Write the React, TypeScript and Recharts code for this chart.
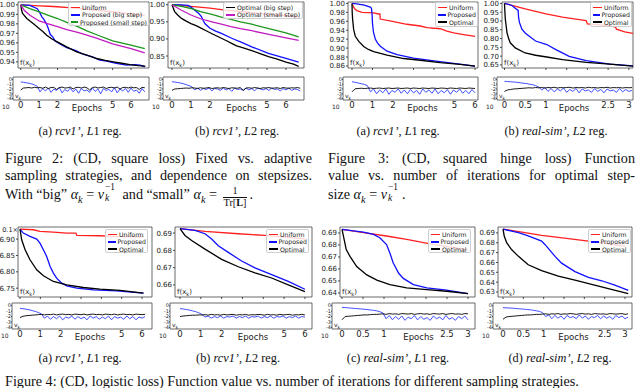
import { LineChart, Line, XAxis, YAxis, ReferenceArea, Legend } from 'recharts';

type Pt = [number, number];

const RED = '#ff2020';
const BLUE = '#1010ff';
const GREEN = '#1c961c';
const MAGENTA = '#c21bc2';
const BLACK = '#000000';
const VK_BLUE = '#2a3cff';

const FONT = '"DejaVu Sans", sans-serif';
const SERIF = '"Liberation Serif", "Times New Roman", serif';

// epoch grids used by the v_k traces
const epochGridLong = [
  0, 0.15, 0.3, 0.45, 0.6, 0.75, 0.9, 1.05, 1.2, 1.35, 1.5, 1.65, 1.8, 1.95, 2.1, 2.25, 2.4, 2.55, 2.7, 2.85,
  3, 3.15, 3.3, 3.45, 3.6, 3.75, 3.9, 4.05, 4.2, 4.35, 4.5, 4.65, 4.8, 4.95, 5.1, 5.25, 5.4, 5.55, 5.7, 5.85,
  6, 6.15, 6.3, 6.45, 6.6, 6.75,
];
const epochGridShort = [
  0, 0.075, 0.15, 0.225, 0.3, 0.375, 0.45, 0.525, 0.6, 0.675, 0.75, 0.825, 0.9, 0.975, 1.05, 1.125, 1.2, 1.275,
  1.35, 1.425, 1.5, 1.575, 1.65, 1.725, 1.8, 1.875, 1.95, 2.025, 2.1, 2.175, 2.25, 2.325, 2.4, 2.475, 2.55,
  2.625, 2.7, 2.775, 2.85, 2.925, 3, 3.075,
];

// --- square loss, rcv1', L1
const sqL1Uniform: Pt[] = [[0, 1.0], [0.5, 0.9995], [1, 0.999], [1.5, 0.9985], [2, 0.998], [2.6, 0.997], [3.2, 0.996], [4, 0.9945], [4.8, 0.993], [5.5, 0.9915], [6.2, 0.99], [6.75, 0.989]];
const sqL1PropBig: Pt[] = [[0, 1.0], [0.5, 0.9995], [0.9, 0.996], [1.0, 0.993], [1.15, 0.9874], [1.25, 0.985], [1.4, 0.98], [1.5, 0.975], [1.6, 0.969], [1.75, 0.966], [1.87, 0.962], [2.2, 0.958], [2.5, 0.955], [3.0, 0.9517], [3.4, 0.948], [3.95, 0.945], [4.3, 0.9417], [4.67, 0.9407], [5.2, 0.9383], [5.76, 0.9365], [6.2, 0.937], [6.5, 0.9365], [6.75, 0.9347]];
const sqL1PropSmall: Pt[] = [[0, 1.0], [0.5, 0.996], [1, 0.9926], [1.5, 0.989], [2, 0.9856], [2.5, 0.9815], [3.1, 0.977], [3.6, 0.9725], [4.2, 0.968], [5, 0.962], [6, 0.9575], [6.75, 0.954]];
const sqL1OptBig: Pt[] = [[0, 1.0], [0.05, 0.994], [0.1, 0.9909], [0.33, 0.9856], [0.5, 0.983], [0.69, 0.98], [1, 0.9751], [1.2, 0.972], [1.41, 0.968], [1.7, 0.964], [1.99, 0.961], [2.5, 0.9558], [3.04, 0.9505], [3.59, 0.947], [4.13, 0.9435], [4.6, 0.9415], [5.04, 0.94], [5.5, 0.9385], [5.94, 0.937], [6.4, 0.936], [6.78, 0.9354]];
const sqL1OptSmall: Pt[] = [[0, 1.0], [0.2, 0.994], [0.5, 0.989], [1, 0.983], [1.5, 0.98], [2, 0.977], [2.5, 0.974], [3.1, 0.971], [3.6, 0.968], [4.2, 0.9645], [5, 0.959], [6, 0.954], [6.75, 0.9495]];
const sqL1VkProp = [-0.55, -0.6, -0.7, -0.8, -0.95, -1.15, -1.45, -2.6, -1.9, -2.4, -1.8, -2.7, -2.0, -2.3, -1.7, -2.8, -2.1, -2.5, -1.8, -2.6, -2.0, -2.9, -1.9, -2.4, -2.2, -2.7, -1.8, -2.5, -2.0, -3.0, -1.9, -2.3, -2.1, -2.6, -1.7, -2.8, -2.0, -2.4, -1.9, -2.7, -1.8, -2.5, -2.2, -2.9, -1.9, -2.6];
const sqL1VkOpt = [-2.2, -1.8, -1.75, -1.7, -1.8, -1.65, -1.75, -1.7, -1.85, -1.6, -1.9, -1.7, -1.65, -2.1, -1.7, -1.6, -1.8, -1.75, -1.6, -2.0, -1.7, -1.65, -1.8, -1.6, -1.75, -2.2, -1.7, -1.6, -1.8, -1.7, -1.6, -1.9, -1.7, -1.65, -1.8, -1.6, -2.0, -1.7, -1.65, -1.8, -1.6, -1.75, -1.7, -2.1, -1.65, -1.75];

// --- square loss, rcv1', L2
const sqL2Uniform: Pt[] = [[0, 1.0], [1, 0.995], [2, 0.99], [2.7, 0.985], [4, 0.978], [5.5, 0.97], [6.67, 0.965]];
const sqL2PropBig: Pt[] = [[0, 1.0], [0.5, 0.9995], [0.85, 0.998], [1.0, 0.993], [1.2, 0.984], [1.4, 0.975], [1.55, 0.965], [1.65, 0.953], [1.73, 0.945], [2, 0.931], [2.3, 0.923], [2.6, 0.916], [3.14, 0.902], [3.7, 0.889], [4.2, 0.877], [5.08, 0.858], [6, 0.843], [6.67, 0.832]];
const sqL2PropSmall: Pt[] = [[0, 1.0], [0.5, 0.995], [1, 0.989], [1.5, 0.98], [2.1, 0.972], [2.6, 0.964], [3.1, 0.957], [3.6, 0.95], [4.2, 0.943], [5.1, 0.93], [6, 0.918], [6.67, 0.906]];
const sqL2OptBig: Pt[] = [[0, 1.0], [0.07, 0.99], [0.14, 0.98], [0.3, 0.97], [0.5, 0.96], [0.75, 0.952], [1, 0.945], [1.3, 0.938], [1.55, 0.931], [1.8, 0.924], [2.08, 0.916], [2.3, 0.91], [2.6, 0.902], [2.9, 0.894], [3.14, 0.887], [3.4, 0.88], [3.67, 0.875], [4.2, 0.866], [4.6, 0.858], [5.08, 0.848], [5.5, 0.842], [6, 0.832], [6.4, 0.826], [6.67, 0.82]];
const sqL2OptSmall: Pt[] = [[0, 1.0], [0.5, 0.984], [1, 0.97], [1.5, 0.959], [2.1, 0.95], [2.6, 0.943], [3.1, 0.936], [3.6, 0.93], [4.2, 0.924], [5.1, 0.913], [6, 0.903], [6.67, 0.896]];
const sqL2VkProp = [-0.5, -0.55, -0.65, -0.75, -0.9, -1.1, -1.3, -1.55, -2.2, -1.8, -2.3, -1.9, -2.1, -1.8, -2.4, -1.9, -2.0, -2.3, -1.8, -2.2, -1.9, -2.5, -1.8, -2.1, -2.0, -2.3, -1.8, -2.2, -1.9, -2.4, -1.8, -2.0, -2.2, -1.9, -2.3, -1.8, -2.1, -2.0, -2.4, -1.9, -2.2, -1.8, -2.3, -2.0, -2.1, -2.4];
const sqL2VkOpt = [-2.3, -2.0, -1.95, -1.9, -1.85, -1.8, -1.85, -1.75, -1.8, -1.9, -1.75, -1.85, -1.8, -1.7, -1.9, -1.8, -1.75, -1.85, -1.7, -1.8, -1.9, -1.75, -1.8, -1.85, -1.7, -2.3, -1.8, -1.75, -1.85, -1.7, -1.8, -1.9, -1.75, -1.8, -1.7, -1.85, -1.8, -1.75, -1.9, -1.7, -1.8, -1.85, -1.75, -1.8, -1.7, -1.85];

// --- squared hinge loss, rcv1', L1
const hgL1Uniform: Pt[] = [[0, 1.0], [0.08, 0.9916], [0.15, 0.987], [0.24, 0.9839], [0.49, 0.98], [1.06, 0.9786], [1.3, 0.9763], [1.36, 0.9763], [1.38, 0.965], [2.03, 0.959], [2.68, 0.9533], [3.33, 0.9494], [3.66, 0.9456], [4.3, 0.9433], [4.63, 0.938], [4.96, 0.934], [5.45, 0.9303], [6.0, 0.9264]];
const hgL1Prop: Pt[] = [[0, 1.0], [0.24, 0.999], [0.6, 0.996], [0.89, 0.9916], [0.95, 0.989], [0.98, 0.975], [1.0, 0.955], [1.05, 0.935], [1.14, 0.9196], [1.25, 0.911], [1.38, 0.9043], [1.71, 0.893], [2.2, 0.8852], [3.0, 0.8775], [4.0, 0.8713], [4.96, 0.866], [6.0, 0.8597]];
const hgL1Opt: Pt[] = [[0, 1.0], [0.01, 0.98], [0.03, 0.9648], [0.08, 0.9418], [0.16, 0.9265], [0.33, 0.915], [0.57, 0.9035], [0.8, 0.897], [1.06, 0.892], [1.71, 0.8843], [2.52, 0.8767], [3.33, 0.8728], [4.3, 0.8675], [5.28, 0.8637], [6.0, 0.8597]];
const hgL1VkProp = [-0.5, -0.6, -0.75, -0.9, -1.05, -1.3, -2.6, -2.0, -3.0, -2.2, -2.8, -2.0, -3.1, -2.3, -2.7, -2.0, -2.9, -2.2, -3.0, -2.1, -2.8, -2.3, -3.1, -2.0, -2.7, -2.2, -2.9, -2.0, -3.0, -2.3, -2.8, -2.1, -3.1, -2.2, -2.7, -2.0, -2.9, -2.3, -3.0, -2.1, -2.8];
const hgL1VkOpt = [-2.6, -1.95, -1.9, -1.85, -1.9, -1.85, -1.8, -1.9, -1.85, -1.8, -1.9, -1.85, -1.8, -1.9, -1.85, -1.8, -1.9, -1.85, -1.8, -1.9, -1.8, -1.85, -1.9, -1.8, -1.85, -1.9, -1.8, -1.85, -1.9, -1.8, -1.85, -1.9, -1.8, -1.85, -1.9, -1.8, -1.85, -1.9, -1.8, -1.85, -1.9];

// --- squared hinge loss, real-sim', L2
const hgL2Uniform: Pt[] = [[0, 1.0], [0.25, 0.985], [0.5, 0.969], [1, 0.94], [1.4, 0.922], [1.72, 0.911], [1.97, 0.902], [1.99, 0.89], [2.0, 0.883], [2.3, 0.878], [2.53, 0.873], [2.68, 0.865], [2.7, 0.853], [2.9, 0.838], [3.1, 0.83]];
const hgL2Prop: Pt[] = [[0, 1.0], [0.1, 0.995], [0.18, 0.988], [0.26, 0.973], [0.33, 0.96], [0.34, 0.92], [0.36, 0.892], [0.42, 0.853], [0.5, 0.832], [0.59, 0.815], [0.75, 0.786], [1.02, 0.766], [1.24, 0.737], [1.56, 0.699], [1.97, 0.674], [2.54, 0.655], [3.1, 0.645]];
const hgL2Opt: Pt[] = [[0, 1.0], [0.01, 0.95], [0.02, 0.911], [0.06, 0.834], [0.1, 0.8], [0.14, 0.776], [0.26, 0.747], [0.5, 0.718], [0.75, 0.705], [1.02, 0.695], [1.4, 0.68], [1.97, 0.664], [2.54, 0.655], [3.1, 0.643]];
const hgL2VkProp = [-0.4, -0.45, -0.5, -0.55, -0.6, -0.7, -0.8, -0.85, -1.0, -1.1, -1.3, -1.6, -2.2, -1.7, -2.5, -1.9, -2.6, -2.0, -2.4, -1.8, -2.7, -2.1, -2.5, -1.9, -2.8, -2.0, -2.4, -2.2, -2.7, -1.9, -2.5, -2.1, -2.8, -2.0, -2.4, -2.2, -2.7, -1.9, -2.6, -2.1, -2.5, -2.3];
const hgL2VkOpt = [-2.5, -2.2, -2.1, -2.0, -1.95, -1.9, -1.85, -1.8, -1.75, -1.8, -1.7, -1.75, -1.7, -1.8, -1.7, -1.75, -1.65, -1.8, -1.7, -1.75, -1.7, -1.65, -1.8, -1.7, -1.75, -1.7, -1.8, -1.65, -1.75, -1.7, -1.8, -1.7, -1.75, -1.65, -1.8, -1.7, -1.75, -1.7, -1.8, -1.7, -1.75, -1.7];

// --- logistic loss, rcv1', L1 (axis shows values x10)
const lgL1Uniform: Pt[] = [[0, 0.69306], [0.66, 0.69286], [0.98, 0.69235], [1.64, 0.69214], [2.3, 0.69184], [2.75, 0.69184], [2.79, 0.69112], [3.93, 0.69102], [4.75, 0.69082], [6.1, 0.6907]];
const lgL1Prop: Pt[] = [[0, 0.69306], [0.16, 0.69184], [0.49, 0.69082], [0.82, 0.69], [0.98, 0.68878], [1.15, 0.68674], [1.31, 0.6847], [1.48, 0.68164], [1.64, 0.6796], [1.8, 0.67806], [2.05, 0.67653], [2.3, 0.6757], [2.79, 0.675], [3.61, 0.6745], [4.75, 0.67419], [6.07, 0.67348]];
const lgL1Opt: Pt[] = [[0, 0.69306], [0.08, 0.6898], [0.25, 0.68674], [0.49, 0.68368], [0.82, 0.6806], [1.15, 0.6788], [1.64, 0.67704], [2.3, 0.676], [3.11, 0.6752], [3.93, 0.6747], [4.92, 0.6743], [6.07, 0.67348]];
const lgL1VkProp = [-0.5, -0.55, -0.65, -0.75, -0.9, -1.05, -1.25, -1.5, -2.3, -1.9, -2.5, -2.0, -2.4, -1.9, -2.6, -2.1, -2.3, -1.9, -2.5, -2.0, -2.4, -2.1, -2.6, -1.9, -2.3, -2.0, -2.5, -2.1, -2.4, -1.9, -2.6, -2.0, -2.3, -2.1, -2.5, -1.9, -2.4, -2.0, -2.6, -2.1, -2.3, -2.0];
const lgL1VkOpt = [-2.2, -1.95, -1.85, -1.8, -1.75, -1.7, -1.65, -1.6, -1.7, -1.6, -1.65, -1.55, -1.7, -1.6, -1.55, -1.65, -1.6, -1.7, -1.55, -1.6, -1.65, -1.55, -1.7, -1.6, -1.55, -1.65, -1.6, -1.7, -1.55, -1.6, -1.65, -1.55, -1.7, -1.6, -1.55, -1.65, -1.6, -1.7, -1.55, -1.6, -1.65, -1.6];

// --- logistic loss, rcv1', L2
const lgL2Uniform: Pt[] = [[0, 0.6926], [1.2, 0.691], [2.8, 0.6896], [4.08, 0.6886], [6, 0.6866]];
const lgL2Prop: Pt[] = [[0, 0.6926], [0.72, 0.6916], [1.2, 0.6896], [1.52, 0.6866], [1.84, 0.6827], [2.32, 0.6788], [2.96, 0.6738], [3.6, 0.6699], [4.4, 0.6659], [5.2, 0.662], [6.0, 0.6575]];
const lgL2Opt: Pt[] = [[0, 0.6926], [0.24, 0.6886], [0.56, 0.6857], [1.2, 0.6807], [2.0, 0.6748], [2.8, 0.6705], [3.6, 0.6669], [4.4, 0.664], [5.2, 0.66], [6.0, 0.6561]];
const lgL2VkProp = [-0.55, -0.6, -0.7, -0.8, -0.95, -1.1, -1.3, -1.6, -2.1, -1.9, -2.3, -2.0, -2.2, -1.9, -2.3, -2.0, -2.1, -1.9, -2.3, -2.0, -2.2, -1.9, -2.3, -2.0, -2.1, -1.9, -2.3, -2.0, -2.2, -1.9, -2.3, -2.0, -2.1, -1.9, -2.3, -2.0, -2.2, -1.9, -2.3, -2.0, -2.1];
const lgL2VkOpt = [-2.0, -1.9, -1.85, -1.8, -1.75, -1.75, -1.7, -1.7, -1.65, -1.75, -1.6, -1.7, -1.65, -1.75, -1.6, -1.7, -1.65, -1.6, -1.75, -1.65, -1.7, -1.6, -1.75, -1.65, -1.7, -1.6, -1.65, -1.75, -1.6, -1.7, -1.65, -1.75, -1.6, -1.7, -1.65, -1.6, -1.75, -1.65, -1.7, -1.6, -1.7];

// --- logistic loss, real-sim', L1
const lsL1Uniform: Pt[] = [[0, 0.6931], [0.51, 0.6903], [1.06, 0.6875], [1.54, 0.6846], [2.1, 0.681], [3.0, 0.676]];
const lsL1Prop: Pt[] = [[0, 0.6931], [0.51, 0.6908], [0.75, 0.6889], [0.9, 0.686], [1.06, 0.6804], [1.14, 0.6733], [1.22, 0.6649], [1.35, 0.6564], [1.46, 0.6521], [1.7, 0.647], [2.02, 0.6442], [2.49, 0.6423], [3.0, 0.6394]];
const lsL1Opt: Pt[] = [[0, 0.6931], [0.05, 0.6846], [0.1, 0.6762], [0.19, 0.6705], [0.35, 0.662], [0.59, 0.655], [0.83, 0.6507], [1.14, 0.647], [1.54, 0.6442], [2.02, 0.6428], [2.49, 0.6414], [3.0, 0.6394]];
const lsL1VkProp = [-0.3, -0.35, -0.4, -0.45, -0.5, -0.55, -0.6, -0.65, -0.7, -0.8, -0.85, -0.95, -1.1, -1.35, -2.4, -1.8, -2.6, -2.0, -2.5, -1.9, -2.7, -2.1, -2.4, -1.8, -2.6, -2.0, -2.5, -2.2, -2.7, -1.9, -2.4, -2.1, -2.6, -1.8, -2.5, -2.2, -2.7, -2.0, -2.4, -1.9, -2.6];
const lsL1VkOpt = [-2.6, -2.0, -1.95, -1.9, -1.85, -1.8, -1.75, -1.7, -1.7, -1.65, -1.6, -1.6, -1.55, -1.5, -1.6, -1.45, -1.55, -1.5, -1.6, -1.45, -1.5, -1.55, -1.45, -1.6, -1.5, -1.45, -1.55, -1.5, -1.6, -1.45, -1.5, -1.55, -1.45, -1.6, -1.5, -1.45, -1.55, -1.5, -1.6, -1.45, -1.5];

// --- logistic loss, real-sim', L2
const lsL2Uniform: Pt[] = [[0, 0.6938], [0.54, 0.6903], [0.95, 0.6876], [1.61, 0.6841], [2.1, 0.6817], [3.0, 0.6766]];
const lsL2Prop: Pt[] = [[0, 0.6938], [0.38, 0.6903], [0.62, 0.6869], [0.95, 0.6817], [1.03, 0.6783], [1.28, 0.6662], [1.44, 0.6593], [1.77, 0.6507], [2.1, 0.6448], [2.43, 0.6414], [2.75, 0.6369], [3.08, 0.6317]];
const lsL2Opt: Pt[] = [[0, 0.6938], [0.03, 0.6869], [0.09, 0.68], [0.21, 0.6731], [0.38, 0.6662], [0.62, 0.6576], [0.95, 0.6517], [1.36, 0.6462], [1.77, 0.6421], [2.18, 0.6376], [2.59, 0.6334], [3.08, 0.6283]];
const lsL2VkProp = [-0.35, -0.4, -0.42, -0.45, -0.5, -0.55, -0.6, -0.65, -0.7, -0.75, -0.85, -0.95, -1.05, -1.3, -2.0, -1.7, -2.4, -1.8, -2.3, -1.9, -2.5, -1.8, -2.2, -2.0, -2.4, -1.7, -2.3, -1.9, -2.5, -2.0, -2.2, -1.8, -2.4, -1.9, -2.3, -2.0, -2.5, -1.8, -2.2, -1.9, -2.4, -2.1];
const lsL2VkOpt = [-2.5, -2.1, -2.0, -1.95, -1.9, -1.85, -1.8, -1.75, -1.7, -1.7, -1.65, -1.6, -1.6, -1.55, -1.5, -1.6, -1.5, -1.55, -1.45, -1.6, -1.5, -1.55, -1.45, -1.5, -1.6, -1.5, -1.45, -1.55, -1.5, -1.6, -1.45, -1.5, -1.55, -1.5, -1.6, -1.45, -1.5, -1.55, -1.5, -1.45, -1.6, -1.5];

const wholeTicks = [0, 1, 2, 3, 4, 5, 6];
const halfTicks = [0, 0.5, 1, 1.5, 2, 2.5, 3];
const wholeLabels = [0, 1, 2, 5, 6];
const halfLabels = [0, 0.5, 1, 2.5, 3];
const vkTicks = [0, -1, -2, -3, -4];
const vkDomain = [-4.3, 0.5];

const basicLegend = [
  { label: 'Uniform', color: RED },
  { label: 'Proposed', color: BLUE },
  { label: 'Optimal', color: BLACK },
];

const rows = (pts: Pt[]) => pts.map(([epoch, value]) => ({ epoch, value }));
const zipRows = (grid: number[], vals: number[]) => vals.map((value, i) => ({ epoch: grid[i], value }));
const fmt2 = (v: number) => v.toFixed(2);

const Y_W = 26;
const VK_W = 9;

const panels = [
  {
    box: { left: 18, right: 149, top: 2, bottom: 68 },
    xDomain: [-0.15, 6.98], yDomain: [0.9335, 1.003], xTicks: wholeTicks,
    yTicks: [0.94, 0.95, 0.96, 0.97, 0.98, 0.99, 1.0],
    series: [
      { name: 'u', color: RED, pts: sqL1Uniform },
      { name: 'pb', color: BLUE, pts: sqL1PropBig },
      { name: 'ps', color: GREEN, pts: sqL1PropSmall },
      { name: 'ob', color: BLACK, pts: sqL1OptBig },
      { name: 'os', color: MAGENTA, pts: sqL1OptSmall },
    ],
    legend: { left: 68, top: 2, width: 81, height: 24, items: [
      { label: 'Uniform', color: RED },
      { label: 'Proposed (big step)', color: BLUE },
      { label: 'Proposed (small step)', color: GREEN },
    ] },
    vk: { left: 13, top: 77, bottom: 100, xDomain: [-0.42, 6.98], xTicks: wholeLabels, epochsDx: 6, grid: epochGridLong, prop: sqL1VkProp, opt: sqL1VkOpt },
  },
  {
    box: { left: 168, right: 304, top: 2, bottom: 68 },
    xDomain: [-0.21, 6.95], yDomain: [0.815, 1.008], xTicks: wholeTicks,
    yTicks: [0.85, 0.9, 0.95, 1.0],
    series: [
      { name: 'u', color: RED, pts: sqL2Uniform },
      { name: 'pb', color: BLUE, pts: sqL2PropBig },
      { name: 'ps', color: GREEN, pts: sqL2PropSmall },
      { name: 'ob', color: BLACK, pts: sqL2OptBig },
      { name: 'os', color: MAGENTA, pts: sqL2OptSmall },
    ],
    legend: { left: 223, top: 2, width: 80, height: 17, items: [
      { label: 'Optimal (big step)', color: BLACK },
      { label: 'Optimal (small step)', color: MAGENTA },
    ] },
    vk: { left: 163, top: 77, bottom: 100, xDomain: [-0.47, 6.95], xTicks: wholeLabels, epochsDx: 8, grid: epochGridLong, prop: sqL2VkProp, opt: sqL2VkOpt },
  },
  {
    box: { left: 348, right: 478, top: 2, bottom: 68 },
    xDomain: [-0.195, 6.146], yDomain: [0.8555, 1.0031], xTicks: wholeTicks,
    yTicks: [0.86, 0.88, 0.9, 0.92, 0.94, 0.96, 0.98, 1.0],
    series: [
      { name: 'u', color: RED, pts: hgL1Uniform },
      { name: 'p', color: BLUE, pts: hgL1Prop },
      { name: 'o', color: BLACK, pts: hgL1Opt },
    ],
    legend: { left: 435, top: 2, width: 43, height: 25, items: basicLegend },
    vk: { left: 343, top: 77, bottom: 100, xDomain: [-0.44, 6.146], xTicks: wholeLabels, epochsDx: 12, grid: epochGridLong, prop: hgL1VkProp, opt: hgL1VkOpt },
  },
  {
    box: { left: 502, right: 633, top: 2, bottom: 68 },
    xDomain: [-0.06, 3.1], yDomain: [0.6325, 1.008], xTicks: halfTicks,
    yTicks: [0.65, 0.7, 0.75, 0.8, 0.85, 0.9, 0.95, 1.0],
    series: [
      { name: 'u', color: RED, pts: hgL2Uniform },
      { name: 'p', color: BLUE, pts: hgL2Prop },
      { name: 'o', color: BLACK, pts: hgL2Opt },
    ],
    legend: { left: 590, top: 2, width: 42, height: 25, items: basicLegend },
    vk: { left: 497, top: 77, bottom: 100, xDomain: [-0.18, 3.1], xTicks: halfLabels, epochsDx: 9, grid: epochGridShort, prop: hgL2VkProp, opt: hgL2VkOpt },
  },
  {
    box: { left: 18, right: 152, top: 227, bottom: 297 },
    xDomain: [-0.1, 6.49], yDomain: [0.6723, 0.6937], xTicks: wholeTicks,
    yTicks: [0.675, 0.68, 0.685, 0.69], tickFmt: (v: number) => (v * 10).toFixed(2), offsetText: '0.1×',
    series: [
      { name: 'u', color: RED, pts: lgL1Uniform },
      { name: 'p', color: BLUE, pts: lgL1Prop },
      { name: 'o', color: BLACK, pts: lgL1Opt },
    ],
    legend: { left: 105, top: 229, width: 43, height: 24, items: basicLegend },
    vk: { left: 12, top: 303, bottom: 329, xDomain: [-0.39, 6.49], xTicks: wholeLabels, epochsDx: 8, grid: epochGridLong, prop: lgL1VkProp, opt: lgL1VkOpt },
  },
  {
    box: { left: 175, right: 312, top: 227, bottom: 297 },
    xDomain: [-0.24, 6.34], yDomain: [0.653, 0.6935], xTicks: wholeTicks,
    yTicks: [0.66, 0.67, 0.68, 0.69],
    series: [
      { name: 'u', color: RED, pts: lgL2Uniform },
      { name: 'p', color: BLUE, pts: lgL2Prop },
      { name: 'o', color: BLACK, pts: lgL2Opt },
    ],
    legend: { left: 266, top: 229, width: 43, height: 24, items: basicLegend },
    vk: { left: 170, top: 303, bottom: 329, xDomain: [-0.48, 6.34], xTicks: wholeLabels, epochsDx: 12, grid: epochGridLong, prop: lgL2VkProp, opt: lgL2VkOpt },
  },
  {
    box: { left: 340, right: 475, top: 227, bottom: 297 },
    xDomain: [-0.048, 3.167], yDomain: [0.6366, 0.695], xTicks: halfTicks,
    yTicks: [0.64, 0.65, 0.66, 0.67, 0.68, 0.69],
    series: [
      { name: 'u', color: RED, pts: lsL1Uniform },
      { name: 'p', color: BLUE, pts: lsL1Prop },
      { name: 'o', color: BLACK, pts: lsL1Opt },
    ],
    legend: { left: 428, top: 229, width: 43, height: 24, items: basicLegend },
    vk: { left: 332, top: 303, bottom: 329, xDomain: [-0.238, 3.167], xTicks: halfLabels, epochsDx: 15, grid: epochGridShort, prop: lsL1VkProp, opt: lsL1VkOpt },
  },
  {
    box: { left: 498, right: 632, top: 227, bottom: 297 },
    xDomain: [-0.123, 3.172], yDomain: [0.6249, 0.696], xTicks: halfTicks,
    yTicks: [0.63, 0.64, 0.65, 0.66, 0.67, 0.68, 0.69],
    series: [
      { name: 'u', color: RED, pts: lsL2Uniform },
      { name: 'p', color: BLUE, pts: lsL2Prop },
      { name: 'o', color: BLACK, pts: lsL2Opt },
    ],
    legend: { left: 588, top: 229, width: 43, height: 24, items: basicLegend },
    vk: { left: 493, top: 303, bottom: 329, xDomain: [-0.246, 3.172], xTicks: halfLabels, epochsDx: 11, grid: epochGridShort, prop: lsL2VkProp, opt: lsL2VkOpt },
  },
];

const topCaptions = [
  { x: 80, tag: '(a)', data: 'rcv1’', reg: '1' },
  { x: 237, tag: '(b)', data: 'rcv1’', reg: '2' },
  { x: 398, tag: '(a)', data: 'rcv1’', reg: '1' },
  { x: 556, tag: '(b)', data: 'real-sim’', reg: '2' },
];
const bottomCaptions = [
  { x: 80, tag: '(a)', data: 'rcv1’', reg: '1' },
  { x: 238, tag: '(b)', data: 'rcv1’', reg: '2' },
  { x: 398, tag: '(c)', data: 'real-sim’', reg: '1' },
  { x: 560, tag: '(d)', data: 'real-sim’', reg: '2' },
];

const cornerText = (main: boolean) => (props: any) => {
  const vb = props.viewBox || {};
  return (
    <text x={vb.x + 2} y={vb.y + vb.height - (main ? 3 : 2)} fontSize={main ? 7 : 6} fontFamily={FONT} fill="#222">
      {main ? 'f(x' : 'v'}
      <tspan fontSize={main ? 5 : 4.5} dy={1.5}>k</tspan>
      {main ? <tspan dy={-1.5}>)</tspan> : null}
    </text>
  );
};

function LegendBox({ items, width, height }: any) {
  return (
    <div style={{
      boxSizing: 'border-box', width, height, background: 'rgba(255,255,255,0.8)', border: '1px solid #cfcfcf',
      borderRadius: 2, padding: '1px 1px 0 2px', fontFamily: FONT, fontSize: 6.2, lineHeight: '7.3px', color: '#222',
    }}>
      {items.map((it: any) => (
        <div key={it.label} style={{ display: 'flex', alignItems: 'center', whiteSpace: 'nowrap' }}>
          <span style={{ display: 'inline-block', width: 9, height: 1.6, background: it.color, marginRight: 2 }} />
          {it.label}
        </div>
      ))}
    </div>
  );
}

function MainPlot({ p }: any) {
  const { box, legend } = p;
  const w = box.right - box.left;
  const h = box.bottom - box.top;
  const chartLeft = box.left - Y_W;
  const chartTop = box.top - 2;
  return (
    <div style={{ position: 'absolute', left: chartLeft, top: chartTop }}>
      <LineChart width={Y_W + w + 2} height={h + 6} margin={{ top: 2, right: 2, bottom: 0, left: 0 }}>
        <XAxis type="number" dataKey="epoch" domain={p.xDomain} ticks={p.xTicks} allowDataOverflow interval={0}
          axisLine={false} tickSize={2} height={4} stroke="#444" tickFormatter={() => ''} />
        <YAxis type="number" domain={p.yDomain} ticks={p.yTicks} allowDataOverflow interval={0} width={Y_W}
          axisLine={false} tickSize={2} tickMargin={1} stroke="#444"
          tick={{ fontSize: 7, fill: '#222', fontFamily: FONT }} tickFormatter={p.tickFmt || fmt2}
          label={p.offsetText ? { value: p.offsetText, position: 'insideTopRight', offset: 0, fontSize: 6.5, fill: '#222', fontFamily: FONT } : undefined} />
        <ReferenceArea x1={p.xDomain[0]} x2={p.xDomain[1]} y1={p.yDomain[0]} y2={p.yDomain[1]} ifOverflow="visible"
          fill="none" stroke="#444" strokeWidth={0.8} label={cornerText(true)} />
        {p.series.map((s: any) => (
          <Line key={s.name} data={rows(s.pts)} dataKey="value" stroke={s.color} strokeWidth={1.3} dot={false}
            isAnimationActive={false} />
        ))}
        <Legend layout="vertical" align="center" verticalAlign="middle"
          wrapperStyle={{ left: legend.left - chartLeft, top: legend.top - chartTop, width: legend.width, height: legend.height }}
          content={() => <LegendBox items={legend.items} width={legend.width} height={legend.height} />} />
      </LineChart>
    </div>
  );
}

function VkPlot({ p }: any) {
  const vk = p.vk;
  const w = p.box.right - vk.left;
  const h = vk.bottom - vk.top;
  return (
    <div style={{ position: 'absolute', left: vk.left - VK_W, top: vk.top - 1 }}>
      <LineChart width={VK_W + w + 2} height={h + 14} margin={{ top: 1, right: 2, bottom: 0, left: 0 }}>
        <XAxis type="number" dataKey="epoch" domain={vk.xDomain} ticks={vk.xTicks} allowDataOverflow interval={0}
          axisLine={false} tickLine={false} tickSize={0} tickMargin={2} height={13}
          tick={{ fontSize: 8.5, fill: '#222', fontFamily: FONT }} tickFormatter={(v: number) => String(v)}
          label={{ value: 'Epochs', position: 'center', dx: vk.epochsDx, dy: 1, fontSize: 8.5, fill: '#222', fontFamily: FONT }} />
        <YAxis type="number" domain={vkDomain} ticks={vkTicks} allowDataOverflow interval={0} width={VK_W}
          axisLine={false} tickSize={1} tickMargin={0} stroke="#444"
          tick={{ fontSize: 5, fill: '#222', fontFamily: FONT }} />
        <ReferenceArea x1={vk.xDomain[0]} x2={vk.xDomain[1]} y1={vkDomain[0]} y2={vkDomain[1]} ifOverflow="visible"
          fill="none" stroke="#444" strokeWidth={0.8} label={cornerText(false)} />
        <Line data={zipRows(vk.grid, vk.prop)} dataKey="value" stroke={VK_BLUE} strokeWidth={0.9} dot={false}
          isAnimationActive={false} />
        <Line data={zipRows(vk.grid, vk.opt)} dataKey="value" stroke={BLACK} strokeWidth={0.9} dot={false}
          isAnimationActive={false} />
      </LineChart>
      <div style={{ position: 'absolute', left: -2, top: h + 4, fontFamily: FONT, fontSize: 6, color: '#222' }}>10</div>
    </div>
  );
}

// v with stacked subscript k and superscript -1 (offsets in the script's own em)
function SubSup({ sub, sup }: any) {
  return (
    <span style={{ display: 'inline-block', position: 'relative', width: '1.05em', height: '1em', verticalAlign: 'baseline' }}>
      <span style={{ position: 'absolute', left: 1, top: '-0.12em', fontSize: '0.66em', lineHeight: 1 }}>{sup}</span>
      <span style={{ position: 'absolute', left: 1, top: '1.02em', fontSize: '0.66em', lineHeight: 1, fontStyle: 'italic' }}>{sub}</span>
    </span>
  );
}

function Frac({ num, den }: any) {
  return (
    <span style={{ display: 'inline-flex', flexDirection: 'column', alignItems: 'center', verticalAlign: '0.45em', fontSize: '0.72em', lineHeight: 1.05, margin: '0 2px' }}>
      <span>{num}</span>
      <span style={{ borderTop: '0.7px solid #111', padding: '0 1px' }}>{den}</span>
    </span>
  );
}

const alphaK = (
  <>
    <i>α</i><sub style={{ fontSize: '0.72em', fontStyle: 'italic', lineHeight: 0 }}>k</sub>
  </>
);

function SubCaption({ c, y }: any) {
  return (
    <div style={{ position: 'absolute', left: c.x - 80, top: y, width: 160, textAlign: 'center', fontFamily: SERIF, fontSize: 12.3, lineHeight: '14px', color: '#111', whiteSpace: 'nowrap' }}>
      {c.tag} <i>{c.data}</i>, <i>L</i>{c.reg} reg.
    </div>
  );
}

const captionLine = (left: number, top: number, width: number | undefined, justify: boolean) => ({
  position: 'absolute' as const, left, top, width, fontFamily: SERIF, fontSize: 14.2, lineHeight: '17px', color: '#111',
  whiteSpace: 'nowrap' as const, textAlign: justify ? ('justify' as const) : ('left' as const),
  textAlignLast: justify ? ('justify' as const) : ('left' as const),
});

export default function App() {
  return (
    <div style={{ position: 'absolute', left: 0, top: 0, width: 640, height: 388, overflow: 'hidden', background: '#fff' }}>
      {panels.map((p, i) => (
        <div key={i}>
          <MainPlot p={p} />
          <VkPlot p={p} />
        </div>
      ))}
      {topCaptions.map((c, i) => <SubCaption key={i} c={c} y={124} />)}
      {bottomCaptions.map((c, i) => <SubCaption key={i} c={c} y={351} />)}

      <div style={captionLine(5, 149.5, 307, true)}>Figure 2: (CD, square loss) Fixed vs. adaptive</div>
      <div style={captionLine(5, 167, 307, true)}>sampling strategies, and dependence on stepsizes.</div>
      <div style={captionLine(5, 184.5, undefined, false)}>
        With “big” {alphaK} = <i>v</i><SubSup sub="k" sup="−1" /> and “small” {alphaK} = <Frac num="1" den={<>Tr[<b>L</b>]</>} />.
      </div>

      <div style={captionLine(328, 149.5, 307, true)}>Figure 3: (CD, squared hinge loss) Function</div>
      <div style={captionLine(328, 167, 307, true)}>value vs. number of iterations for optimal step-</div>
      <div style={captionLine(328, 184.5, undefined, false)}>
        size {alphaK} = <i>v</i><SubSup sub="k" sup="−1" />.
      </div>

      <div style={captionLine(5, 372.5, undefined, false)}>
        Figure 4: (CD, logistic loss) Function value vs. number of iterations for different sampling strategies.
      </div>
    </div>
  );
}
